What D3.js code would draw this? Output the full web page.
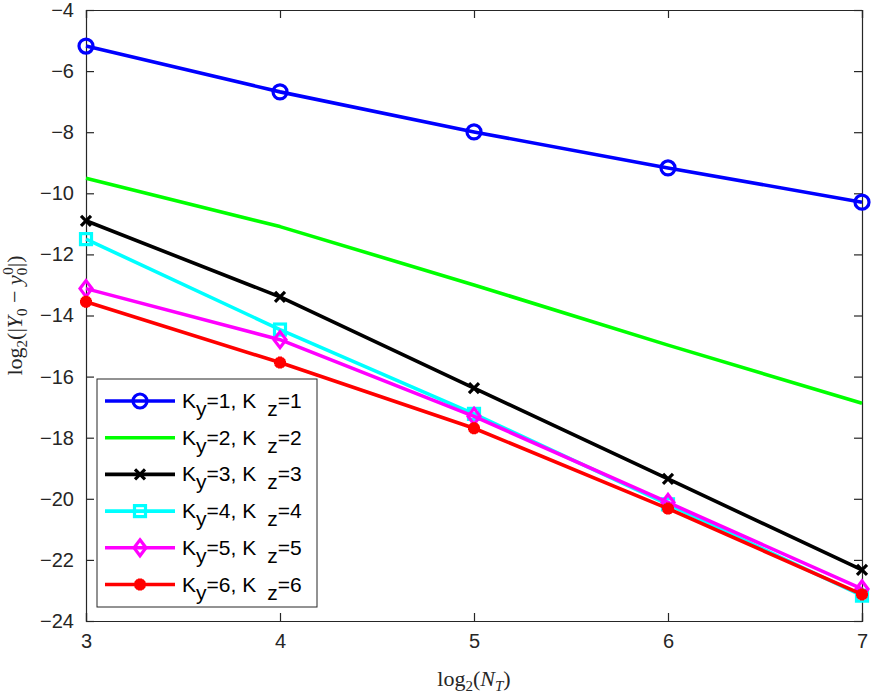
<!DOCTYPE html>
<html>
<head>
<meta charset="utf-8">
<script src="https://cdn.jsdelivr.net/npm/d3@7"></script>
<style>
  body { margin: 0; background: #fff; }
  svg { display: block; }
  text { font-family: "Liberation Sans", Arial, Helvetica, sans-serif; }
</style>
</head>
<body>
<div id="chart"></div>
<script>
// data
var xs = [3, 4, 5, 6, 7];
var k1 = [-5.18, -6.68, -7.99, -9.17, -10.29];
var k2 = [-9.51, -11.09, -13.0, -14.97, -16.87];
var k3 = [-10.9, -13.39, -16.38, -19.35, -22.33];
var k4 = [-11.5, -14.46, -17.22, -20.18, -23.17];
var k5 = [-13.12, -14.79, -17.3, -20.12, -22.95];
var k6 = [-13.55, -15.54, -17.69, -20.32, -23.13];
var labels = ["1", "2", "3", "4", "5", "6"];
var xTicks = [3, 4, 5, 6, 7];
var yTicks = [-4, -6, -8, -10, -12, -14, -16, -18, -20, -22, -24];

var series = [
  {vals: k1, color: "#0000ff", marker: "circle"},
  {vals: k2, color: "#00ff00", marker: "none"},
  {vals: k3, color: "#000000", marker: "x"},
  {vals: k4, color: "#00ffff", marker: "square"},
  {vals: k5, color: "#ff00ff", marker: "diamond"},
  {vals: k6, color: "#ff0000", marker: "star"}
];

var W = 872, H = 695;
var m = {left: 86, top: 10, right: 10, bottom: 74};
var axisColor = "#262626";
var sansFont = "Liberation Sans";
var mathFont = "'Liberation Serif', 'DejaVu Serif', serif";

var svg = d3.select("#chart").append("svg").attr("width", W).attr("height", H);

var x = d3.scaleLinear().domain([3, 7]).range([m.left, W - m.right]);
var y = d3.scaleLinear().domain([-24, -4]).range([H - m.bottom, m.top]);

// axes with inward ticks
var axB = svg.append("g").attr("transform", "translate(0," + y(-24) + ")")
  .call(d3.axisBottom(x).tickValues(xTicks).tickSize(-8).tickPadding(13).tickFormat(d3.format("d")));
var axT = svg.append("g").attr("transform", "translate(0," + y(-4) + ")")
  .call(d3.axisTop(x).tickValues(xTicks).tickSize(-8).tickFormat(""));
var axL = svg.append("g").attr("transform", "translate(" + x(3) + ",0)")
  .call(d3.axisLeft(y).tickValues(yTicks).tickSize(-8).tickPadding(12).tickFormat(d3.format("d")));
var axR = svg.append("g").attr("transform", "translate(" + x(7) + ",0)")
  .call(d3.axisRight(y).tickValues(yTicks).tickSize(-8).tickFormat(""));

[axB, axT, axL, axR].forEach(function(a){
  a.attr("font-family", null);
  a.select(".domain").attr("stroke", axisColor).attr("stroke-width", 1.2);
  a.selectAll(".tick line").attr("stroke", axisColor).attr("stroke-width", 1.2);
  a.selectAll(".tick text").attr("fill", axisColor).attr("font-size", 20).attr("font-family", sansFont);
});

// lines
var line = d3.line().x(function(d, i){ return x(xs[i]); }).y(function(d){ return y(d); });

function drawMarker(g, type, cx, cy, color) {
  if (type == "circle") {
    g.append("circle").attr("cx", cx).attr("cy", cy).attr("r", 7)
      .attr("fill", "none").attr("stroke", color).attr("stroke-width", 3.2);
  } else if (type == "x") {
    var s = 5;
    g.append("path").attr("d", "M" + (cx - s) + "," + (cy - s) + "L" + (cx + s) + "," + (cy + s) +
        "M" + (cx - s) + "," + (cy + s) + "L" + (cx + s) + "," + (cy - s))
      .attr("stroke", color).attr("stroke-width", 3.2);
  } else if (type == "square") {
    g.append("rect").attr("x", cx - 5.5).attr("y", cy - 5.5).attr("width", 11).attr("height", 11)
      .attr("fill", "none").attr("stroke", color).attr("stroke-width", 3.2);
  } else if (type == "diamond") {
    var d = 8;
    g.append("path").attr("d", "M" + cx + "," + (cy - d) + "L" + (cx + d * 0.75) + "," + cy +
        "L" + cx + "," + (cy + d) + "L" + (cx - d * 0.75) + "," + cy + "Z")
      .attr("fill", "none").attr("stroke", color).attr("stroke-width", 3.2);
  } else if (type == "star") {
    var r = 6, p = "";
    [0, 45, 90, 135].forEach(function(a){
      var t = a * Math.PI / 180;
      p += "M" + (cx - r * Math.cos(t)) + "," + (cy - r * Math.sin(t)) + "L" + (cx + r * Math.cos(t)) + "," + (cy + r * Math.sin(t));
    });
    g.append("path").attr("d", p).attr("stroke", color).attr("stroke-width", 4);
  }
}

series.forEach(function(s){
  var g = svg.append("g");
  g.append("path").datum(s.vals).attr("d", line)
    .attr("fill", "none").attr("stroke", s.color).attr("stroke-width", 3.6).attr("stroke-linejoin", "round");
  s.vals.forEach(function(v, i){
    drawMarker(g, s.marker, x(xs[i]), y(v), s.color);
  });
});

// legend
var lg = svg.append("g");
lg.append("rect").attr("x", 97).attr("y", 379).attr("width", 220).attr("height", 228)
  .attr("fill", "#fff").attr("stroke", axisColor).attr("stroke-width", 1);
series.forEach(function(s, i){
  var ly = 401 + i * 36.7;
  lg.append("line").attr("x1", 105).attr("x2", 175).attr("y1", ly).attr("y2", ly)
    .attr("stroke", s.color).attr("stroke-width", 3.6);
  drawMarker(lg, s.marker, 140, ly, s.color);
  var t = lg.append("text").attr("x", 182).attr("y", ly + 7)
    .attr("font-family", sansFont).attr("font-size", 21).attr("fill", "#000");
  t.append("tspan").text("K");
  t.append("tspan").attr("dy", 8).text("y");
  t.append("tspan").attr("dy", -8).text("=" + labels[i] + ", K");
  t.append("tspan").attr("dx", 11).attr("dy", 8).text("z");
  t.append("tspan").attr("dy", -8).text("=" + labels[i]);
});

// x label
var xl = svg.append("text").attr("x", (x(3) + x(7)) / 2).attr("y", 686)
  .attr("text-anchor", "middle").style("font-family", mathFont).attr("font-size", 22).attr("fill", axisColor);
xl.append("tspan").text("log");
xl.append("tspan").attr("dy", 5).attr("font-size", 15).text("2");
xl.append("tspan").attr("dy", -5).text("(");
xl.append("tspan").attr("font-style", "italic").text("N");
xl.append("tspan").attr("dy", 5).attr("font-size", 15).attr("font-style", "italic").text("T");
xl.append("tspan").attr("dy", -5).text(")");

// y label
var yl = svg.append("text").attr("transform", "translate(22," + ((y(-4) + y(-24)) / 2) + ") rotate(-90)")
  .attr("text-anchor", "middle").style("font-family", mathFont).attr("font-size", 22).attr("fill", axisColor);
yl.append("tspan").text("log");
yl.append("tspan").attr("dy", 5).attr("font-size", 15).text("2");
yl.append("tspan").attr("dy", -5).text("(|");
yl.append("tspan").attr("font-style", "italic").text("Y");
yl.append("tspan").attr("dy", 5).attr("font-size", 15).text("0");
yl.append("tspan").attr("dy", -5).text(" \u2212 ");
yl.append("tspan").attr("font-style", "italic").text("y");
yl.append("tspan").attr("dy", 5).attr("font-size", 15).text("0");
yl.append("tspan").attr("dx", -7).attr("dy", -14).attr("font-size", 15).text("0");
yl.append("tspan").attr("dy", 9).text("|)");
</script>
</body>
</html>
